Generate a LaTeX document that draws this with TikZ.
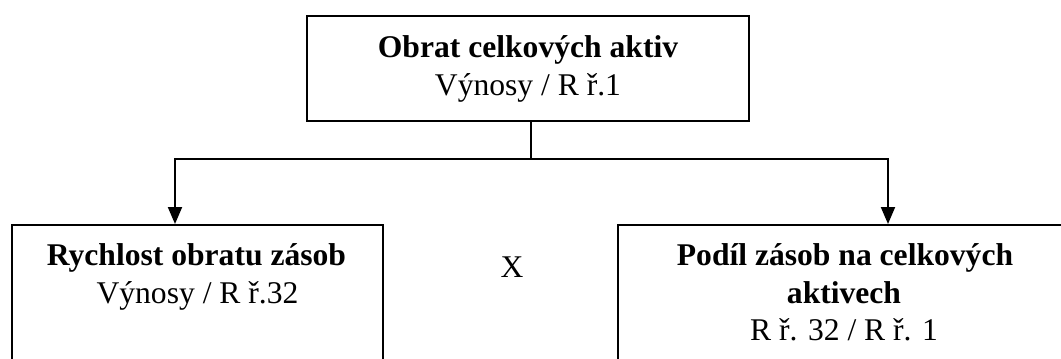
\documentclass[tikz,border=0pt]{standalone}
\usepackage{fontspec}
\setmainfont{Liberation Serif}
\usetikzlibrary{arrows.meta}
\begin{document}
\begin{tikzpicture}[x=1pt,y=-1pt,
  boxstyle/.style={draw=black,line width=2pt,inner sep=0pt},
  txt/.style={anchor=base,inner sep=0pt,font=\fontsize{31.6}{38}\selectfont},
  btxt/.style={txt,font=\fontsize{31.6}{38}\selectfont\bfseries},
  conn/.style={draw=black,line width=2pt},
  arr/.style={conn,-{Triangle[length=17pt,width=14pt]}}]
\useasboundingbox (0,0) rectangle (1061,359);
\clip (0,0) rectangle (1061,359);
% boxes
\node[boxstyle,minimum width=442pt,minimum height=105pt] (top) at (528,68.5) {};
\node[boxstyle,minimum width=371pt,minimum height=170pt] (left) at (197.5,310) {};
\node[boxstyle,minimum width=470pt,minimum height=170pt] (right) at (853,310) {};
% texts
\node[btxt] (t1) at (528,57) {Obrat celkových aktiv};
\node[txt] (t2) at (528,95) {Výnosy / R ř.1};
\node[btxt] (l1) at (196.5,265) {Rychlost obratu zásob};
\node[txt] (l2) at (197.5,303) {Výnosy / R ř.32};
\node[btxt] (r1) at (845,265) {Podíl zásob na celkových};
\node[btxt] (r2) at (844,303) {aktivech};
\node[txt] (r3) at (844,340) {R ř. 32 / R ř. 1};
\node[txt] (x) at (512,277) {X};
% connectors
\coordinate (j) at (531,158.5);
\coordinate (jl) at (175,158.5);
\coordinate (jr) at (888,158.5);
\draw[conn] (top.south -| j) -- (j);
\draw[conn,line cap=rect] (jl) -- (jr);
\draw[arr] (jl) -- (jl |- left.north);
\draw[arr] (jr) -- (jr |- right.north);
\end{tikzpicture}
\end{document}
